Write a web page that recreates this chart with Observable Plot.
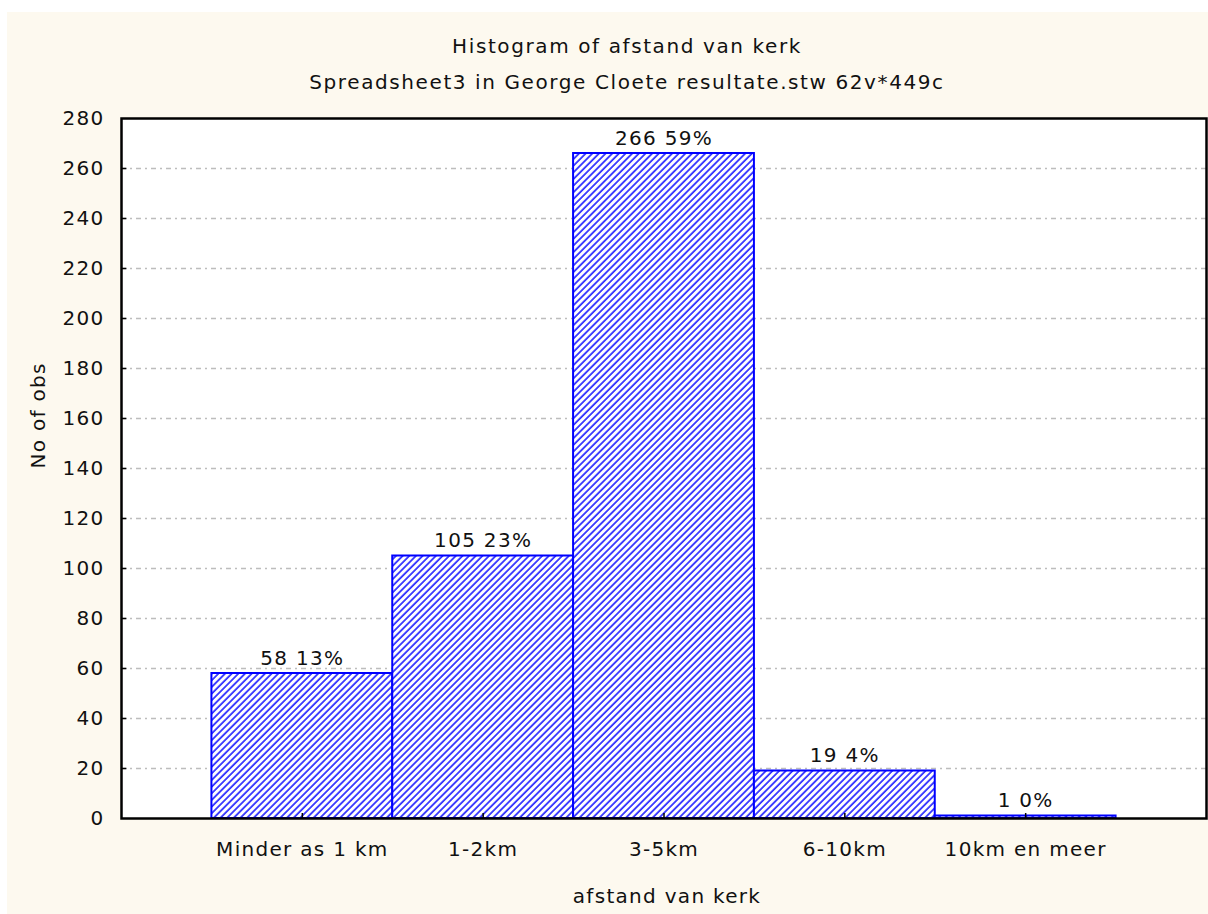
<!DOCTYPE html>
<html><head><meta charset="utf-8">
<script src="https://cdn.jsdelivr.net/npm/d3@7"></script>
<script src="https://cdn.jsdelivr.net/npm/@observablehq/plot@0.6"></script>
<style>
body{margin:0;background:#fff;width:1208px;height:914px;overflow:hidden;position:relative;font-family:"DejaVu Sans",sans-serif;color:#111;}
#bg{position:absolute;left:7px;top:12px;width:1201px;height:902px;background:#fdf9ef;}
.t{position:absolute;left:0;width:1254px;text-align:center;font-size:20px;line-height:22px;letter-spacing:1.6px;}
#chart{position:absolute;left:0;top:0;}
#chart svg text{letter-spacing:1.3px;}
</style></head>
<body>
<div id="bg"></div>
<div class="t" style="top:35px">Histogram of afstand van kerk</div>
<div class="t" style="top:71px">Spreadsheet3 in George Cloete resultate.stw 62v*449c</div>
<div id="chart"></div>
<script>
const categories = ["Minder as 1 km", "1-2km", "3-5km", "6-10km", "10km en meer"];
const counts = [58, 105, 266, 19, 1];
const yTicks = [0, 20, 40, 60, 80, 100, 120, 140, 160, 180, 200, 220, 240, 260, 280];
const gridTicks = yTicks.slice(1, -1);

const total = d3.sum(counts);
const data = categories.map((c, i) => ({
  cat: c, pos: i + 1, x1: i + 0.5, x2: i + 1.5, n: counts[i],
  label: `${counts[i]} ${Math.round(100 * counts[i] / total)}%`
}));
const xPos = data.map(d => d.pos);

const plot = Plot.plot({
  width: 1208, height: 914,
  marginLeft: 121, marginRight: 2, marginTop: 118, marginBottom: 96,
  style: {background: "transparent", fontFamily: "DejaVu Sans, sans-serif", fontSize: "20px", color: "#111"},
  x: {domain: [0, 6], axis: null},
  y: {domain: [0, 280], axis: null},
  marks: [
    Plot.frame({fill: "white", stroke: "none"}),
    Plot.ruleY(gridTicks, {stroke: "#bdbdbd", strokeWidth: 1.3, strokeDasharray: "5,4,2,4"}),
    Plot.rectY(data, {x1: "x1", x2: "x2", y1: 0, y2: "n", fill: "url(#hatch)", stroke: "#0000ff", strokeWidth: 2}),
    Plot.text(data, {x: "pos", y: "n", text: "label", dy: -15, fontSize: 20, fill: "#111"}),
    Plot.ruleY(gridTicks, {x1: 0, x2: 0.03, stroke: "#000", strokeWidth: 1.5}),
    Plot.ruleX(xPos, {y1: 0, y2: 2, stroke: "#000", strokeWidth: 1.5}),
    Plot.frame({stroke: "#000", strokeWidth: 2.5}),
    Plot.axisY({ticks: yTicks, tickSize: 0, tickPadding: 17, fontSize: 20, label: null}),
    Plot.axisX({ticks: xPos, tickSize: 0, tickPadding: 23, fontSize: 20, label: null, tickFormat: d => categories[d - 1]}),
    Plot.text(["No of obs"], {frameAnchor: "left", dx: -83, rotate: -90, fontSize: 20, fill: "#111"}),
    Plot.text(["afstand van kerk"], {frameAnchor: "bottom", dy: 84, dx: 3, fontSize: 20, fill: "#111"})
  ]
});

const svg = d3.select(plot);
const defs = svg.insert("defs", ":first-child");
const pat = defs.append("pattern").attr("id", "hatch")
  .attr("patternUnits", "userSpaceOnUse").attr("width", 4.7).attr("height", 10)
  .attr("patternTransform", "rotate(45)");
pat.append("rect").attr("width", 4.7).attr("height", 10).attr("fill", "white");
pat.append("line").attr("x1", 1).attr("x2", 1).attr("y1", 0).attr("y2", 10)
  .attr("stroke", "#1a1aff").attr("stroke-width", 1.6);
document.getElementById("chart").append(plot);
</script>
</body></html>
